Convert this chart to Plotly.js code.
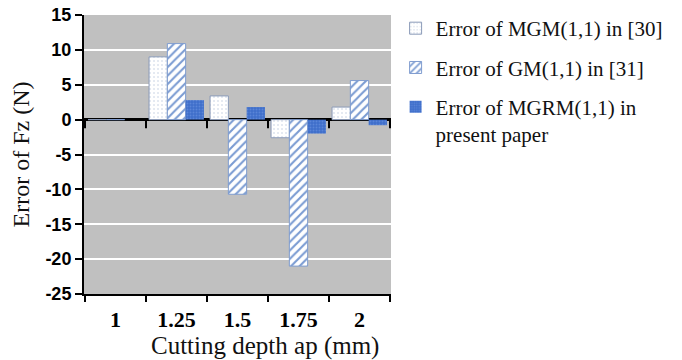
<!DOCTYPE html>
<html><head><meta charset="utf-8">
<script src="https://cdn.plot.ly/plotly-3.0.1.min.js"></script>
<style>body{margin:0;background:#fff}#c{width:682px;height:360px}</style>
</head><body><div id="c"></div>
<script>
var categories = ["1", "1.25", "1.5", "1.75", "2"];
var mgmErr = [0, 9.0, 3.4, -2.6, 1.8];
var gmErr = [0, 10.9, -10.7, -21.0, 5.6];
var mgrmErr = [0, 2.8, 1.8, -2.0, -0.8];
var seriesNames = ["Error of MGM(1,1) in [30]", "Error of GM(1,1) in [31]", "Error of MGRM(1,1) in<br>present paper"];
var yTicks = [-25, -20, -15, -10, -5, 0, 5, 10, 15];

var traces = [
  {type:'bar', x:categories, y:mgmErr, name:seriesNames[0], legendgroup:'a',
   marker:{color:'#ffffff', line:{color:'#8a9ab8', width:1},
     pattern:{shape:'.', fgcolor:'#dde3ee', bgcolor:'#ffffff', size:4, solidity:0.2}}},
  {type:'bar', x:categories, y:gmErr, name:seriesNames[1], legendgroup:'b',
   marker:{color:'#ffffff', line:{color:'#7f9ccf', width:1},
     pattern:{shape:'/', fgcolor:'#7a9bd2', bgcolor:'#ffffff', size:6, solidity:0.35}}},
  {type:'bar', x:categories, y:mgrmErr, name:seriesNames[2], legendgroup:'c',
   marker:{color:'#3f6fcb', line:{color:'#3f6fcb', width:0},
     pattern:{shape:'.', fgcolor:'#5a85d8', bgcolor:'#3f6fcb', size:3, solidity:0.3}}}
];

var shapes = [];
for (var k = 0; k <= categories.length; k++) {
  shapes.push({type:'line', xref:'x', yref:'y', x0:k-0.5, x1:k-0.5, y0:0, y1:-1.25,
    line:{color:'#000', width:2}});
}

var serif = 'Liberation Serif, Times New Roman, serif';
var layout = {
  width:682, height:360,
  margin:{l:84, r:291, t:15, b:66, autoexpand:false},
  paper_bgcolor:'#ffffff', plot_bgcolor:'#c0c0c0',
  barmode:'group', bargap:0.1, bargroupgap:0,
  showlegend:true,
  legend:{x:1.015, xanchor:'left', y:1.025, yanchor:'top', tracegroupgap:9,
    valign:'top', itemwidth:30,
    font:{family:serif, size:21, color:'#111'}},
  xaxis:{type:'category', showline:true, linecolor:'#000', linewidth:2,
    ticks:'outside', tickson:'boundaries', ticklen:6, tickwidth:2, tickcolor:'#000',
    showgrid:false, zeroline:false, ticklabelstandoff:5,
    tickfont:{family:serif, size:22, color:'#000', weight:'bold'}},
  yaxis:{range:[-25, 15], tickvals:yTicks, ticktext:yTicks.map(String),
    showline:true, linecolor:'#000', linewidth:2, ticks:'outside', ticklen:7, tickwidth:2, tickcolor:'#000',
    showgrid:true, gridcolor:'#ffffff', gridwidth:2,
    zeroline:true, zerolinecolor:'#000', zerolinewidth:3,
    tickfont:{family:'Liberation Sans, Arial, sans-serif', size:18, color:'#000', weight:'bold'},
    title:{text:'Error of Fz (N)', standoff:9,
      font:{family:serif, size:24, color:'#111'}}},
  shapes:shapes,
  annotations:[{xref:'paper', yref:'paper', x:0.59, y:0, yshift:-36, xanchor:'center', yanchor:'top',
    showarrow:false, text:'Cutting depth ap (mm)',
    font:{family:serif, size:25, color:'#111'}}]
};

Plotly.newPlot('c', traces, layout, {staticPlot:true, displayModeBar:false});
</script></body></html>
